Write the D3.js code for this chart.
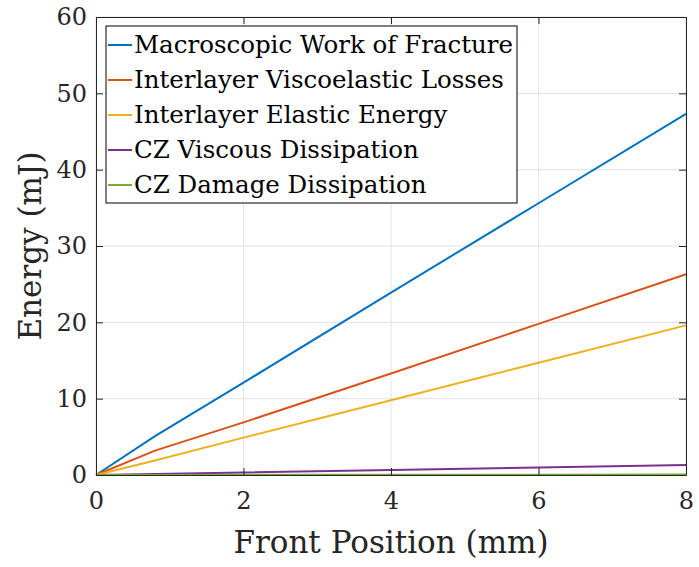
<!DOCTYPE html>
<html>
<head>
<meta charset="utf-8">
<script src="https://cdn.jsdelivr.net/npm/d3@7"></script>
<style>
  body { margin: 0; background: #fff; }
  svg { display: block; }
</style>
</head>
<body>
<svg id="chart"></svg>
<script>
const positions = [0, 0.8, 2, 4, 6, 8];

const seriesNames = [
  "Macroscopic Work of Fracture",
  "Interlayer Viscoelastic Losses",
  "Interlayer Elastic Energy",
  "CZ Viscous Dissipation",
  "CZ Damage Dissipation"
];
const seriesColors = ["#0072BD", "#D95319", "#EDB120", "#7E2F8E", "#77AC30"];

const workOfFracture   = [0, 5.1, 12.1, 23.9, 35.6, 47.3];
const viscoLosses      = [0, 3.2, 6.9, 13.3, 19.8, 26.3];
const elasticEnergy    = [0, 1.9, 4.9, 9.8, 14.7, 19.6];
const czViscous        = [0, 0.12, 0.33, 0.65, 0.98, 1.3];
const czDamage         = [0, 0.01, 0.02, 0.03, 0.04, 0.05];

const xTicks = [0, 2, 4, 6, 8];
const yTicks = [0, 10, 20, 30, 40, 50, 60];

const allSeries = [workOfFracture, viscoLosses, elasticEnergy, czViscous, czDamage];

const fontFam = "'DejaVu Serif', serif";
const width = 699, height = 567;
const margin = {top: 17, right: 13, bottom: 92, left: 96};
const innerW = width - margin.left - margin.right;
const innerH = height - margin.top - margin.bottom;
const axisColor = "#262626";

const svg = d3.select("#chart").attr("width", width).attr("height", height);
const chart = svg.append("g").attr("transform", `translate(${margin.left},${margin.top})`);

const x = d3.scaleLinear().domain([0, 8]).range([0, innerW]);
const y = d3.scaleLinear().domain([0, 60]).range([innerH, 0]);

// grid
chart.append("g").selectAll("line").data(xTicks).join("line")
  .attr("x1", d => x(d)).attr("x2", d => x(d))
  .attr("y1", 0).attr("y2", innerH)
  .attr("stroke", "#e3e3e3").attr("stroke-width", 1);
chart.append("g").selectAll("line").data(yTicks).join("line")
  .attr("x1", 0).attr("x2", innerW)
  .attr("y1", d => y(d)).attr("y2", d => y(d))
  .attr("stroke", "#e3e3e3").attr("stroke-width", 1);

// data lines
const line = d3.line().x((d, i) => x(positions[i])).y(d => y(d));
chart.append("g").selectAll("path").data(allSeries).join("path")
  .attr("d", d => line(d))
  .attr("fill", "none")
  .attr("stroke", (d, i) => seriesColors[i])
  .attr("stroke-width", 2);

// axes (inward ticks, box on)
const tickLen = 7;
const xAxis = d3.axisBottom(x).tickValues(xTicks).tickSizeInner(-tickLen).tickSizeOuter(0).tickPadding(17);
const yAxis = d3.axisLeft(y).tickValues(yTicks).tickSizeInner(-tickLen).tickSizeOuter(0).tickPadding(9);
const xTop = d3.axisTop(x).tickValues(xTicks).tickSizeInner(-tickLen).tickSizeOuter(0).tickFormat("");
const yRight = d3.axisRight(y).tickValues(yTicks).tickSizeInner(-tickLen).tickSizeOuter(0).tickFormat("");

function styleAxis(g) {
  g.attr("font-family", fontFam).attr("font-size", 24);
  g.selectAll("path").attr("stroke", axisColor).attr("stroke-width", 1);
  g.selectAll("line").attr("stroke", axisColor).attr("stroke-width", 1);
  g.selectAll("text").attr("fill", axisColor);
}

chart.append("g").attr("transform", `translate(0,${innerH})`).call(xAxis).call(styleAxis);
chart.append("g").call(yAxis).call(styleAxis);
chart.append("g").call(xTop).call(styleAxis);
chart.append("g").attr("transform", `translate(${innerW},0)`).call(yRight).call(styleAxis);

// axis labels
svg.append("text")
  .attr("x", margin.left + innerW / 2).attr("y", 553)
  .attr("text-anchor", "middle")
  .attr("fill", axisColor)
  .attr("font-family", fontFam).attr("font-size", 31)
  .text("Front Position (mm)");

svg.append("text")
  .attr("transform", `translate(41, ${margin.top + innerH / 2}) rotate(-90)`)
  .attr("text-anchor", "middle")
  .attr("fill", axisColor)
  .attr("font-family", fontFam).attr("font-size", 31)
  .text("Energy (mJ)");

// legend
const legend = chart.append("g").attr("transform", "translate(10,9)");
legend.append("rect")
  .attr("x", 0).attr("y", 0).attr("width", 411).attr("height", 177)
  .attr("fill", "#fff").attr("stroke", "#000").attr("stroke-width", 1);
const rowH = 35;
const items = legend.selectAll("g").data(seriesNames).join("g")
  .attr("transform", (d, i) => `translate(0, ${19 + i * rowH})`);
items.append("line")
  .attr("x1", 2).attr("x2", 26).attr("y1", 0).attr("y2", 0)
  .attr("stroke", (d, i) => seriesColors[i]).attr("stroke-width", 2);
items.append("text")
  .attr("x", 28).attr("y", 8)
  .attr("fill", "#000")
  .attr("font-family", fontFam).attr("font-size", 24.5)
  .text(d => d);
</script>
</body>
</html>
